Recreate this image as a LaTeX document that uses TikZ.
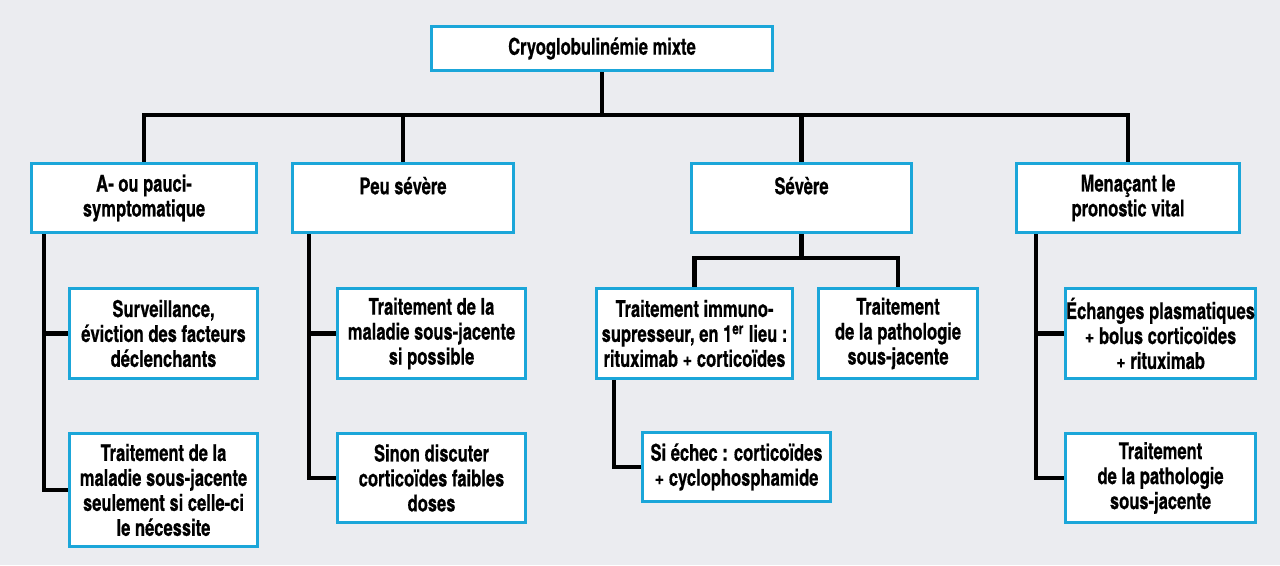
\documentclass[tikz,border=0pt]{standalone}
\usepackage{fontspec}
\setmainfont{texgyreheroscn}[Extension=.otf,UprightFont=*-bold,BoldFont=*-bold,
  FakeStretch=0.87,FakeBold=0.5]
\usetikzlibrary{backgrounds}
\definecolor{bgcol}{HTML}{EBECF0}
\definecolor{boxcol}{HTML}{1BA6D9}
\tikzset{
my box/.style={draw=boxcol,line width=1.7pt,fill=white,align=center,inner sep=0pt,
  font=\fontsize{13.2}{14.2}\selectfont},
my size/.style 2 args={minimum width={(#1-3)*0.02cm},minimum height={(#2-3)*0.02cm}},
my line/.style={line width=2.3pt,black}, % All connectors thick
}

\begin{document}
\begin{tikzpicture}[x=0.02cm,y=-0.02cm]
\node[my box,my size={344}{47}] (title)  at (602,48.5)  {Cryoglobulinémie mixte};
\node[my box,my size={228}{72}] (asympt) at (144,198)   {A- ou pauci-\\symptomatique};
\node[my box,my size={224}{72}] (peu)    at (403,198)   {Peu sévère\\\mbox{}};
\node[my box,my size={223}{72}] (sev)    at (801.5,198) {Sévère\\\mbox{}};
\node[my box,my size={226}{72}] (menace) at (1128,198)  {Menaçant le\\pronostic vital};
\node[my box,my size={191}{93}]  (asympt1) at (163.5,333.5) {Surveillance,\\éviction des facteurs\\déclenchants};
\node[my box,my size={191}{116}] (asympt2) at (163.5,490)   {Traitement de la\\maladie sous-jacente\\seulement si celle-ci\\le nécessite};
\node[my box,my size={191}{93}]  (peu1)    at (431.5,333.5) {Traitement de la\\maladie sous-jacente\\si possible};
\node[my box,my size={191}{92}]  (peu2)    at (431.5,478)   {Sinon discuter\\corticoïdes faibles\\doses};
\node[my box,my size={199}{93}]  (sev1)    at (694.5,333.5) {Traitement immuno-\\supresseur, en 1\textsuperscript{er} lieu :\\rituximab + corticoïdes};
\node[my box,my size={162}{93}]  (sev2)    at (898,333.5)   {Traitement\\de la pathologie\\sous-jacente};
\node[my box,my size={191}{72}]  (sev3)    at (736.5,467)   {Si échec : corticoïdes\\+ cyclophosphamide};
\node[my box,my size={193}{93}]  (menace1) at (1160.5,333.5) {Échanges plasmatiques\\+ bolus corticoïdes\\+ rituximab};
\node[my box,my size={193}{92}]  (menace2) at (1160.5,478)   {Traitement\\de la pathologie\\sous-jacente};
\begin{scope}[on background layer]
\fill[bgcol] (0,0) rectangle (1280,565);
\coordinate (bus)  at (602,115);
\coordinate (sbus) at (801.5,258);
\draw[my line] (title) -- (bus);
\draw[my line] (asympt.north) |- (bus) -| (menace.north);
\draw[my line] (peu.north) -- (peu.north |- bus);
\draw[my line] (sev.north) -- (sev.north |- bus);
\draw[my line] (sev) -- (sbus);
\draw[my line] (sev1.north) |- (sbus) -| (sev2.north);
\draw[my line] (asympt.south west) ++(14,0) coordinate (ta) |- (asympt2.west);
\draw[my line] (asympt1.west) -- (ta |- asympt1.west);
\draw[my line] (peu.south west) ++(18,0) coordinate (tp) |- (peu2.west);
\draw[my line] (peu1.west) -- (tp |- peu1.west);
\draw[my line] (sev1.south west) ++(19,0) |- (sev3.west);
\draw[my line] (menace.south west) ++(21,0) coordinate (tm) |- (menace2.west);
\draw[my line] (menace1.west) -- (tm |- menace1.west);
\end{scope}
\end{tikzpicture}
\end{document}
